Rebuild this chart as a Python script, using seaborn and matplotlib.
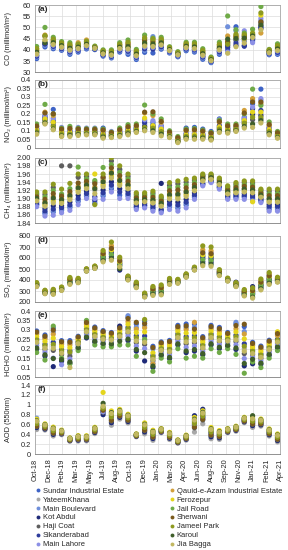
import numpy as np
import pandas as pd
import matplotlib
matplotlib.use("Agg")
import matplotlib.pyplot as plt
import seaborn as sns
from matplotlib.lines import Line2D

sns.set_style("white")
plt.rcParams['font.family'] = ['Liberation Sans', 'DejaVu Sans']

# ---------------- data ----------------
stations = ["Sundar Industrial Estate", "YateemKhana", "Main Boulevard", "Kot Abdul",
            "Haji Coat", "Sikanderabad", "Main Lahore", "Qauid-e-Azam Industrial Estate",
            "Ferozepur", "Jail Road", "Sherwani", "Jameel Park", "Karoul", "Jia Bagga"]
colors = ["#3E63C6", "#A8A8A8", "#6F8FDB", "#1F2A78", "#5E5E5E", "#2E3C9C", "#8C90E6",
          "#D2A03C", "#E4D51E", "#6FAA48", "#7A5A1C", "#8E9A20", "#3F5E2A", "#C2B862"]

months = ["Oct-18", "Nov-18", "Dec-18", "Jan-19", "Feb-19", "Mar-19", "Apr-19", "May-19",
          "Jun-19", "Jul-19", "Aug-19", "Sep-19", "Oct-19", "Nov-19", "Dec-19", "Jan-20",
          "Feb-20", "Mar-20", "Apr-20", "May-20", "Jun-20", "Jul-20", "Aug-20", "Sep-20",
          "Oct-20", "Nov-20", "Dec-20", "Jan-21", "Feb-21", "Mar-21"]

xtick_labels = ["Oct-18", "Dec-18", "Feb-19", "Mar-19", "May-19", "Jul-19", "Aug-19",
                "Oct-19", "Dec-19", "Jan-20", "Mar-20", "Apr-20", "Jun-20", "Aug-20",
                "Sep-20", "Nov-20", "Jan-21", "Feb-21", "Apr-21"]

# each row = one month, values in station order
co_values = [
    [36.1,38.4,36.7,37.5,38.7,37.2,37.8,40.4,39.2,41.5,39.8,40.6,38.9,38.1],
    [41.3,42.5,42.0,43.0,42.8,42.6,43.4,46.6,44.2,50.0,46.0,46.3,43.2,44.5],
    [40.5,42.6,41.0,41.8,42.9,41.6,42.1,44.5,43.4,45.6,44.0,44.8,43.2,42.4],
    [39.8,41.4,40.2,40.8,41.7,40.6,41.0,42.9,42.1,43.7,42.5,43.1,41.9,41.2],
    [38.0,40.2,38.5,39.4,40.5,39.1,39.6,42.1,41.0,43.2,41.6,42.4,40.7,39.9],
    [39.0,40.8,39.5,40.1,41.0,39.9,40.3,43.2,41.4,42.5,41.9,42.5,41.2,40.6],
    [40.4,42.1,40.8,41.5,42.3,41.3,41.7,44.4,42.7,43.8,43.1,43.8,42.5,41.9],
    [40.1,40.8,40.3,40.5,40.9,40.4,40.6,41.4,41.0,41.7,41.2,41.4,40.9,40.7],
    [37.2,38.4,37.5,37.9,38.5,37.8,38.1,39.4,38.8,40.0,39.1,39.6,38.7,38.2],
    [36.4,37.9,36.8,37.3,38.1,37.2,37.5,39.2,38.5,40.0,38.9,39.4,38.3,37.7],
    [39.0,40.8,39.5,40.1,41.0,39.9,40.3,42.3,41.4,43.2,41.9,42.5,41.2,40.6],
    [38.0,40.7,38.7,39.7,41.0,39.4,40.0,43.1,41.7,44.4,42.4,43.4,41.4,40.4],
    [35.7,37.6,36.2,36.9,37.8,36.7,37.1,39.3,38.3,40.2,38.8,39.5,38.1,37.4],
    [38.9,42.1,39.7,40.9,42.5,40.5,41.3,45.0,43.4,46.6,44.2,45.4,43.0,41.7],
    [38.6,41.8,45.9,40.7,42.2,40.4,41.1,44.4,43.0,45.2,43.7,44.8,42.6,41.5],
    [40.3,42.5,40.8,41.7,42.8,41.4,42.0,44.5,43.4,45.6,44.0,44.8,43.1,42.2],
    [38.6,39.8,38.9,39.4,40.0,39.2,39.5,40.8,40.2,41.4,40.5,41.0,40.1,39.7],
    [36.9,37.9,37.2,37.5,38.0,37.4,37.6,38.7,38.2,39.2,38.5,38.8,38.1,37.8],
    [39.6,41.2,40.0,40.6,41.4,40.4,40.8,42.6,41.8,43.4,42.2,42.8,41.6,41.0],
    [39.0,40.9,39.5,40.2,41.1,40.0,40.4,42.5,41.6,43.4,42.0,42.7,41.3,40.6],
    [35.8,37.8,36.3,37.1,38.1,36.8,37.3,39.5,38.5,40.5,39.0,39.8,38.3,37.6],
    [34.3,35.4,34.6,35.0,35.5,34.9,35.1,36.3,35.8,36.8,36.0,36.4,35.6,35.2],
    [38.0,40.3,38.6,39.4,40.6,39.1,39.7,42.3,41.1,43.4,41.7,42.5,40.8,40.0],
    [40.0,41.5,50.3,42.0,43.0,41.0,39.0,46.2,44.0,55.1,43.5,42.5,44.8,38.5],
    [50.3,44.0,48.5,42.0,44.5,43.0,45.0,46.5,45.5,49.0,46.0,47.0,45.0,41.4],
    [44.0,44.5,46.0,42.0,45.0,41.6,48.5,46.5,45.0,47.5,46.0,46.8,45.2,43.0],
    [44.0,45.5,44.5,45.0,46.0,44.8,43.2,47.0,46.5,49.2,46.8,47.5,46.2,45.5],
    [50.0,51.5,53.0,49.5,52.0,50.5,54.0,47.5,55.5,59.3,52.5,56.5,51.0,49.0],
    [37.8,38.8,38.1,38.5,38.9,38.3,38.6,39.8,39.2,40.2,39.5,40.0,39.0,38.7],
    [38.0,39.9,38.5,39.2,40.2,38.9,39.5,41.6,40.7,42.7,41.2,41.9,40.4,39.7],
]

no2_values = [
    [.116,.098,.107,.101,.092,.110,.113,.125,.104,.140,.128,.095,.086,.080],
    [.190,.175,.165,.180,.160,.170,.185,.210,.170,.256,.205,.150,.145,.140],
    [.226,.140,.175,.150,.130,.160,.170,.190,.150,.200,.200,.125,.110,.106],
    [.100,.082,.090,.085,.077,.093,.120,.106,.088,.115,.110,.080,.070,.066],
    [.100,.084,.093,.087,.078,.096,.099,.110,.090,.126,.114,.081,.072,.066],
    [.100,.086,.094,.089,.082,.096,.120,.108,.091,.115,.110,.084,.077,.072],
    [.100,.088,.094,.090,.084,.096,.116,.106,.092,.112,.108,.086,.080,.076],
    [.100,.088,.094,.090,.084,.096,.116,.106,.092,.112,.108,.086,.080,.076],
    [.116,.074,.083,.077,.068,.086,.090,.100,.080,.110,.104,.071,.062,.056],
    [.082,.071,.076,.073,.067,.078,.096,.087,.074,.092,.089,.069,.064,.060],
    [.096,.081,.088,.084,.076,.091,.094,.104,.086,.116,.106,.079,.071,.066],
    [.112,.094,.103,.097,.088,.106,.109,.121,.100,.136,.124,.091,.082,.076],
    [.120,.105,.113,.108,.100,.115,.118,.128,.110,.140,.130,.103,.095,.090],
    [.140,.130,.160,.125,.110,.150,.165,.205,.175,.252,.210,.120,.105,.100],
    [.150,.120,.140,.125,.110,.130,.160,.190,.130,.200,.212,.115,.100,.090],
    [.130,.100,.115,.105,.090,.120,.125,.150,.110,.170,.155,.095,.080,.070],
    [.084,.072,.078,.074,.068,.080,.082,.090,.076,.100,.092,.070,.064,.060],
    [.052,.041,.046,.043,.037,.048,.050,.057,.044,.066,.059,.039,.034,.030],
    [.116,.070,.080,.073,.063,.083,.086,.100,.076,.110,.103,.067,.057,.050],
    [.120,.071,.082,.075,.064,.085,.088,.103,.078,.113,.106,.068,.057,.050],
    [.110,.068,.077,.071,.062,.080,.083,.095,.074,.104,.098,.065,.056,.050],
    [.096,.060,.068,.063,.055,.070,.073,.083,.065,.090,.086,.058,.050,.045],
    [.170,.114,.126,.118,.106,.130,.165,.150,.122,.162,.154,.110,.098,.090],
    [.118,.102,.110,.105,.097,.113,.116,.126,.108,.140,.129,.100,.091,.086],
    [.122,.109,.116,.111,.105,.118,.120,.129,.114,.140,.131,.107,.100,.096],
    [.180,.150,.165,.155,.140,.170,.175,.220,.160,.200,.205,.145,.125,.116],
    [.260,.190,.280,.200,.165,.230,.240,.290,.210,.346,.270,.180,.140,.120],
    [.346,.200,.280,.190,.170,.220,.290,.260,.210,.250,.270,.180,.160,.146],
    [.120,.100,.110,.103,.090,.114,.118,.130,.106,.152,.137,.095,.084,.076],
    [.080,.068,.074,.070,.064,.076,.078,.086,.072,.096,.088,.066,.060,.056],
]

ch4_values = [
    [1.884,1.898,1.885,1.891,1.912,1.887,1.880,1.902,1.896,1.909,1.905,1.916,1.900,1.894],
    [1.863,1.887,1.866,1.875,1.910,1.869,1.857,1.892,1.884,1.904,1.898,1.916,1.889,1.881],
    [1.867,1.897,1.870,1.882,1.927,1.874,1.859,1.905,1.893,1.920,1.912,1.935,1.901,1.889],
    [1.871,1.894,1.874,1.882,1.980,1.877,1.865,1.900,1.891,1.911,1.906,1.923,1.897,1.888],
    [1.878,1.904,1.881,1.891,1.980,1.884,1.871,1.911,1.901,1.924,1.917,1.937,1.907,1.897],
    [1.893,1.923,1.896,1.908,1.952,1.900,1.885,1.930,1.919,1.977,1.938,1.960,1.926,1.915],
    [1.906,1.930,1.909,1.918,1.954,1.912,1.900,1.936,1.927,1.948,1.942,1.960,1.933,1.924],
    [1.888,1.920,1.892,1.904,1.940,1.896,1.900,1.928,1.960,1.944,1.936,1.885,1.924,1.912],
    [1.906,1.937,1.910,1.921,1.950,1.914,1.898,1.945,1.933,1.976,1.953,1.960,1.941,1.929],
    [1.924,1.958,1.929,1.941,1.992,1.933,1.916,1.966,1.954,1.983,1.975,2.000,1.962,1.950],
    [1.908,1.940,1.970,1.924,1.972,1.916,1.900,1.948,1.936,1.964,1.956,1.980,1.944,1.932],
    [1.906,1.930,1.909,1.918,1.954,1.912,1.900,1.936,1.927,1.948,1.942,1.960,1.933,1.924],
    [1.877,1.894,1.879,1.885,1.910,1.881,1.873,1.898,1.891,1.906,1.902,1.914,1.896,1.889],
    [1.881,1.896,1.883,1.888,1.910,1.884,1.877,1.899,1.894,1.907,1.903,1.914,1.897,1.892],
    [1.874,1.894,1.876,1.884,1.913,1.879,1.869,1.898,1.891,1.908,1.903,1.918,1.896,1.889],
    [1.869,1.886,1.871,1.937,1.902,1.873,1.865,1.890,1.883,1.898,1.894,1.906,1.888,1.881],
    [1.880,1.906,1.883,1.893,1.932,1.886,1.873,1.913,1.903,1.926,1.919,1.939,1.909,1.899],
    [1.876,1.906,1.880,1.891,1.936,1.884,1.869,1.913,1.902,1.928,1.921,1.943,1.910,1.899],
    [1.884,1.912,1.888,1.898,1.940,1.891,1.877,1.919,1.909,1.933,1.926,1.947,1.916,1.905],
    [1.903,1.924,1.906,1.914,1.945,1.908,1.898,1.929,1.921,1.940,1.934,1.950,1.927,1.919],
    [1.934,1.946,1.935,1.955,1.957,1.937,1.931,1.948,1.944,1.954,1.951,1.960,1.947,1.943],
    [1.941,1.950,1.942,1.945,1.958,1.943,1.939,1.952,1.948,1.956,1.954,1.960,1.951,1.947],
    [1.926,1.937,1.927,1.931,1.947,1.928,1.923,1.939,1.935,1.945,1.942,1.950,1.938,1.934],
    [1.901,1.915,1.903,1.908,1.928,1.905,1.898,1.918,1.913,1.924,1.921,1.931,1.916,1.911],
    [1.902,1.919,1.904,1.910,1.935,1.906,1.898,1.923,1.916,1.931,1.927,1.939,1.921,1.914],
    [1.903,1.921,1.905,1.912,1.939,1.907,1.898,1.925,1.918,1.934,1.930,1.943,1.923,1.916],
    [1.899,1.919,1.901,1.909,1.938,1.904,1.894,1.923,1.892,1.933,1.928,1.943,1.921,1.914],
    [1.893,1.907,1.895,1.900,1.920,1.897,1.890,1.910,1.905,1.916,1.913,1.923,1.908,1.903],
    [1.874,1.896,1.877,1.885,1.918,1.880,1.869,1.901,1.893,1.912,1.907,1.923,1.899,1.891],
    [1.874,1.896,1.877,1.885,1.918,1.880,1.869,1.901,1.893,1.912,1.907,1.923,1.899,1.891],
]

so2_values = [
    [360,356,364,348,358,354,368,372,362,352,366,376,344,340],
    [292,289,296,282,291,287,300,303,294,286,298,307,279,275],
    [295,290,300,280,292,287,305,310,297,285,302,315,275,270],
    [322,319,326,312,321,317,330,333,324,315,328,336,309,305],
    [395,388,402,374,391,384,409,416,398,381,405,423,367,360],
    [397,393,402,384,395,391,406,411,400,388,404,415,379,375],
    [492,490,495,485,491,489,497,500,494,487,496,502,482,480],
    [517,515,520,510,516,514,522,525,519,512,521,527,507,505],
    [622,611,634,588,617,605,645,657,628,599,640,668,576,565],
    [662,646,679,613,654,638,695,712,671,630,687,745,596,580],
    [555,542,568,490,548,535,581,594,561,529,574,607,503,520],
    [420,416,424,408,418,414,428,432,422,412,426,436,404,400],
    [357,352,363,341,355,349,368,374,360,346,366,380,335,330],
    [265,261,269,253,263,259,273,277,267,257,271,281,249,245],
    [305,296,314,278,300,291,323,332,309,287,318,341,269,260],
    [315,305,325,285,310,300,335,345,320,295,330,355,275,265],
    [390,384,396,372,387,381,402,408,393,378,399,414,366,360],
    [390,386,394,378,388,384,398,402,392,382,396,406,374,370],
    [442,439,446,432,441,437,449,453,444,435,448,456,428,425],
    [505,502,508,496,503,500,511,514,506,499,509,517,493,490],
    [620,602,638,566,611,593,656,674,629,584,647,710,548,530],
    [612,595,630,560,604,586,647,665,621,577,639,700,542,525],
    [470,464,476,452,467,461,482,488,473,458,479,494,446,440],
    [405,402,408,396,403,400,411,414,406,399,409,417,393,390],
    [360,356,364,380,358,354,368,372,362,352,366,376,344,340],
    [287,281,294,268,284,278,300,307,291,274,297,313,261,255],
    [287,277,298,340,282,272,308,319,293,266,303,329,245,235],
    [365,354,376,332,359,348,387,398,370,343,381,409,321,310],
    [420,408,432,384,414,402,444,456,426,396,438,468,372,360],
    [405,400,410,390,402,397,415,420,407,395,412,425,385,380],
]

hcho_values = [
    [.294,.240,.282,.198,.228,.252,.216,.276,.264,.180,.288,.246,.204,.234],
    [.273,.210,.259,.161,.196,.224,.182,.252,.238,.140,.266,.217,.168,.203],
    [.309,.213,.288,.105,.191,.234,.150,.277,.256,.320,.299,.223,.148,.202],
    [.243,.183,.230,.135,.169,.196,.115,.223,.210,.150,.237,.189,.142,.176],
    [.243,.175,.228,.123,.160,.190,.145,.220,.205,.120,.235,.183,.130,.100],
    [.266,.230,.258,.202,.222,.238,.214,.254,.246,.190,.262,.234,.206,.226],
    [.345,.295,.334,.257,.284,.306,.273,.328,.317,.350,.339,.300,.262,.290],
    [.315,.270,.305,.235,.260,.280,.250,.300,.290,.220,.310,.275,.240,.265],
    [.296,.255,.287,.224,.246,.264,.237,.282,.273,.210,.291,.260,.228,.250],
    [.286,.250,.278,.222,.242,.258,.234,.274,.266,.210,.282,.254,.226,.246],
    [.315,.270,.305,.320,.260,.280,.250,.300,.290,.220,.310,.275,.240,.265],
    [.367,.298,.375,.243,.282,.313,.267,.344,.329,.220,.360,.305,.251,.290],
    [.331,.250,.313,.187,.232,.268,.214,.304,.286,.160,.340,.259,.196,.241],
    [.344,.245,.322,.135,.223,.267,.201,.311,.289,.250,.333,.355,.179,.234],
    [.213,.150,.199,.101,.136,.164,.122,.120,.178,.080,.206,.157,.108,.143],
    [.236,.195,.227,.164,.186,.204,.177,.222,.213,.150,.231,.200,.168,.191],
    [.244,.190,.232,.148,.178,.202,.166,.226,.214,.130,.238,.196,.154,.184],
    [.324,.265,.311,.220,.252,.278,.239,.304,.291,.200,.317,.272,.226,.259],
    [.331,.245,.312,.179,.226,.264,.207,.302,.283,.150,.321,.255,.188,.236],
    [.331,.250,.313,.187,.232,.268,.214,.340,.286,.160,.304,.259,.196,.241],
    [.264,.210,.252,.168,.198,.222,.186,.246,.234,.150,.258,.216,.174,.204],
    [.324,.265,.311,.220,.252,.278,.239,.304,.291,.200,.317,.272,.226,.259],
    [.313,.250,.299,.201,.236,.264,.222,.292,.278,.180,.306,.257,.208,.243],
    [.286,.245,.277,.214,.236,.254,.227,.272,.263,.200,.281,.250,.218,.241],
    [.332,.255,.340,.196,.238,.272,.221,.306,.289,.170,.323,.264,.204,.247],
    [.317,.200,.291,.109,.174,.226,.148,.278,.252,.070,.330,.213,.122,.187],
    [.234,.180,.222,.120,.168,.192,.156,.216,.204,.130,.228,.186,.144,.174],
    [.214,.160,.202,.118,.148,.172,.136,.196,.184,.100,.208,.166,.124,.154],
    [.245,.200,.235,.165,.190,.210,.180,.230,.220,.150,.240,.205,.170,.195],
    [.285,.240,.275,.205,.230,.250,.220,.270,.290,.190,.280,.245,.210,.235],
]

aod_values = [
    [.61,.50,.73,.54,.56,.60,.59,.65,.71,.66,.57,.62,.68,.67],
    [.555,.49,.57,.51,.525,.548,.54,.578,.615,.585,.533,.563,.60,.593],
    [.465,.37,.486,.402,.423,.455,.444,.497,.549,.507,.434,.476,.528,.518],
    [.445,.396,.456,.412,.423,.44,.434,.462,.489,.467,.429,.451,.478,.473],
    [.30,.264,.308,.276,.284,.296,.292,.312,.332,.316,.288,.304,.324,.32],
    [.325,.267,.338,.286,.299,.319,.312,.345,.377,.351,.306,.332,.364,.358],
    [.32,.27,.335,.29,.30,.315,.31,.345,.375,.35,.305,.33,.36,.355],
    [.485,.418,.50,.44,.455,.478,.47,.508,.545,.515,.463,.493,.53,.523],
    [.86,.84,.88,.80,.85,.87,.86,.90,1.25,.95,.89,.93,1.03,.97],
    [.74,.587,.774,.638,.672,.723,.706,.791,.876,.808,.689,.757,.842,.825],
    [.815,.712,.838,.746,.769,.804,.792,.85,.907,.861,.781,.827,.884,.873],
    [.725,.631,.746,.662,.683,.715,.704,.757,.809,.767,.694,.736,.788,.778],
    [.385,.354,.392,.364,.371,.382,.378,.396,.413,.399,.375,.389,.406,.403],
    [.53,.413,.556,.452,.478,.517,.504,.569,.634,.582,.491,.543,.608,.595],
    [.39,.282,.414,.318,.342,.378,.366,.426,.486,.438,.354,.402,.462,.45],
    [.48,.435,.49,.45,.46,.475,.47,.495,.52,.50,.465,.485,.51,.505],
    [.375,.299,.392,.324,.341,.367,.358,.401,.443,.409,.35,.384,.426,.418],
    [.26,.224,.268,.236,.244,.256,.252,.272,.292,.276,.248,.264,.284,.28],
    [.34,.286,.352,.304,.316,.334,.328,.358,.388,.364,.322,.346,.376,.37],
    [.605,.448,.64,.78,.535,.588,.57,.658,.745,.675,.553,.623,.71,.693],
    [.755,.616,.786,.91,.693,.74,.724,.802,.879,.817,.709,.771,.848,.833],
    [.435,.314,.462,.354,.381,.422,.408,.476,.543,.489,.395,.449,.516,.503],
    [.395,.301,.416,.332,.353,.385,.374,.427,.479,.437,.364,.406,.458,.448],
    [.48,.435,.49,.45,.46,.475,.47,.495,.52,.50,.465,.485,.51,.505],
    [.52,.466,.532,.484,.496,.514,.508,.538,.568,.544,.502,.526,.556,.55],
    [.695,.637,.708,.656,.669,.689,.682,.715,.747,.721,.676,.702,.734,.728],
    [.655,.543,.68,.58,.605,.643,.63,.693,.755,.705,.618,.668,.78,.718],
    [.645,.569,.662,.594,.611,.637,.628,.671,.713,.679,.62,.654,.696,.688],
    [.445,.369,.462,.394,.411,.437,.428,.471,.513,.479,.42,.454,.496,.488],
    [.335,.25,.354,.278,.297,.326,.316,.364,.411,.373,.307,.345,.392,.383],
]

panels = [
    ("(a)", co_values, "CO (millimol/m²)", (30, 60), np.arange(30, 61, 5), "{:.0f}"),
    ("(b)", no2_values, "NO₂ (millimol/m²)", (0, 0.4), np.arange(0, 0.401, 0.05), "{:g}"),
    ("(c)", ch4_values, "CH₄ (millimol/m²)", (1.84, 2.00), np.arange(1.84, 2.001, 0.02), "{:.2f}"),
    ("(d)", so2_values, "SO₂ (millimol/m²)", (200, 800), np.arange(200, 801, 100), "{:.0f}"),
    ("(e)", hcho_values, "HCHO (millimol/m²)", (0.05, 0.4), np.arange(0.05, 0.401, 0.05), "{:g}"),
    ("(f)", aod_values, "AOD (550nm)", (0, 1.4), np.arange(0, 1.401, 0.2), "{:g}"),
]

# ---------------- layout ----------------
W, H = 288, 550
left_px, right_px = 35, 280
boxes_px = [(5, 72.3), (80, 147.7), (157.7, 223), (236, 302), (311, 377), (385, 454.3)]

palette = dict(zip(stations, colors))
fig = plt.figure(figsize=(W / 100, H / 100), dpi=100)

x_lo, x_hi = -0.2, 29.3
major_x = np.linspace(x_lo, x_hi, len(xtick_labels))
minor_x = np.linspace(x_lo, x_hi, 2 * (len(xtick_labels) - 1) + 1)
grid_c = "#DCDCDC"
spine_c = "#A6A6A6"
fs = 5.3

for i, (tag, vals, ylabel, ylim, yticks, fmt) in enumerate(panels):
    top, bot = boxes_px[i]
    ax = fig.add_axes([left_px / W, 1 - bot / H, (right_px - left_px) / W, (bot - top) / H])
    recs = []
    for mi, row in enumerate(vals):
        for si, v in enumerate(row):
            recs.append((mi, stations[si], v))
    df = pd.DataFrame(recs, columns=["month", "station", "value"])
    sns.scatterplot(data=df, x="month", y="value", hue="station", hue_order=stations,
                    palette=palette, s=14, linewidth=0, legend=False, ax=ax, zorder=3)
    ax.set_xlim(x_lo, x_hi)
    ax.set_ylim(*ylim)
    ax.set_yticks(yticks)
    ax.set_yticklabels([fmt.format(round(t, 3)) for t in yticks], fontsize=fs)
    ax.set_xticks(major_x)
    ax.set_xticks(minor_x, minor=True)
    if i == len(panels) - 1:
        ax.set_xticklabels(xtick_labels, rotation=90, fontsize=fs)
    else:
        ax.set_xticklabels([])
    ax.set_xlabel("")
    ax.set_ylabel(ylabel, fontsize=fs, labelpad=0)
    ax.yaxis.set_label_coords(-0.095, 0.5)
    ax.grid(True, which="major", color=grid_c, linewidth=0.5, zorder=0)
    ax.set_axisbelow(True)
    for sp in ax.spines.values():
        sp.set_color(spine_c)
        sp.set_linewidth(0.6)
    ax.spines["bottom"].set_color("#808080")
    ax.tick_params(axis="x", which="both", direction="inout", length=3, width=0.5,
                   color="#808080", pad=1.5)
    ax.tick_params(axis="y", which="major", direction="out", length=2, width=0.5,
                   color="#808080", pad=1)
    ax.text(0.012, 0.985, tag, transform=ax.transAxes, ha="left", va="top",
            fontsize=6, fontweight="bold")

# ---------------- legend (two columns) ----------------
def make_handles(names):
    return [Line2D([0], [0], marker="o", linestyle="", markersize=2.8,
                   markerfacecolor=palette[n], markeredgewidth=0) for n in names]

leg_kw = dict(frameon=False, fontsize=5.4, handlelength=0.6, handletextpad=0.3,
              labelspacing=0.22, borderpad=0, borderaxespad=0, loc="upper left")
l1 = fig.legend(make_handles(stations[:7]), stations[:7],
                bbox_to_anchor=(36 / W, 1 - 487.5 / H), **leg_kw)
l2 = fig.legend(make_handles(stations[7:]), stations[7:],
                bbox_to_anchor=(170 / W, 1 - 487.5 / H), **leg_kw)

fig.savefig("out.png", dpi=100)
